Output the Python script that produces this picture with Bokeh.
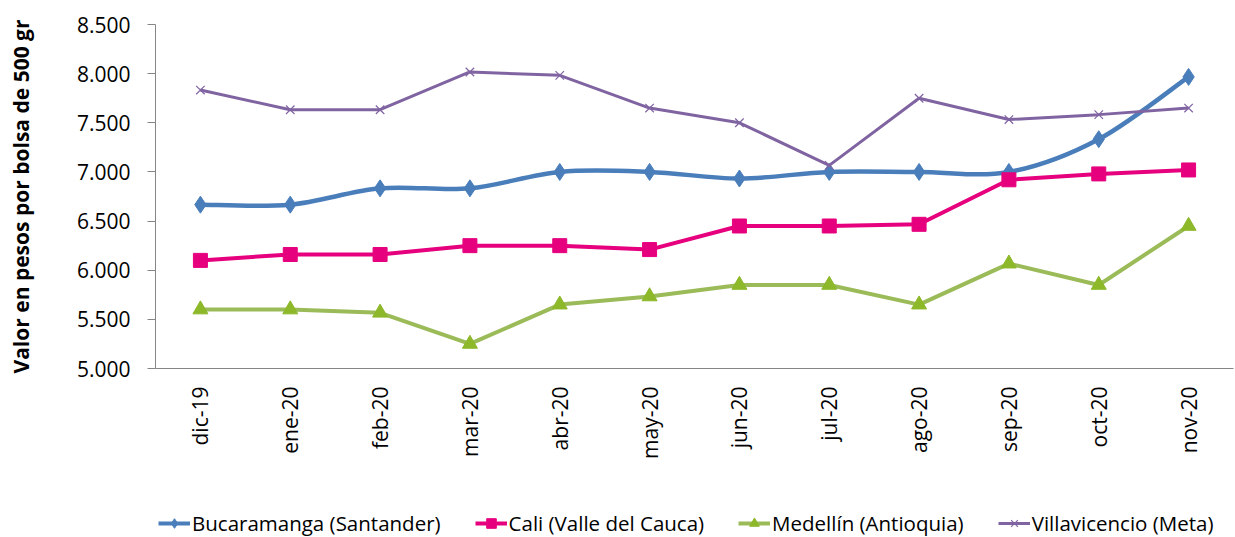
import math
from bokeh.plotting import figure
from bokeh.layouts import column
from bokeh.models import (Range1d, FixedTicker, Legend, LegendItem, ColumnDataSource)
from bokeh.embed import file_html
from bokeh.resources import INLINE

months = ["dic-19", "ene-20", "feb-20", "mar-20", "abr-20", "may-20",
          "jun-20", "jul-20", "ago-20", "sep-20", "oct-20", "nov-20"]
bucaramanga = [6667, 6667, 6833, 6833, 7000, 7000, 6933, 7000, 7000, 7000, 7333, 7967]
cali = [6100, 6160, 6160, 6250, 6250, 6210, 6450, 6450, 6467, 6920, 6980, 7020]
medellin = [5600, 5600, 5567, 5250, 5650, 5733, 5850, 5850, 5650, 6067, 5850, 6450]
villavicencio = [7833, 7633, 7633, 8017, 7983, 7650, 7500, 7067, 7750, 7533, 7583, 7650]
y_ticks = [5000, 5500, 6000, 6500, 7000, 7500, 8000, 8500]
y_tick_labels = ["5.000", "5.500", "6.000", "6.500", "7.000", "7.500", "8.000", "8.500"]
series_names = ["Bucaramanga (Santander)", "Cali (Valle del Cauca)",
                "Medellín (Antioquia)", "Villavicencio (Meta)"]
y_title = "Valor en pesos por bolsa de 500 gr"

FONT = "Open Sans"
xs = list(range(len(months)))

blue, pink, green, green_mk, purple = "#4A7EBB", "#E6007E", "#9BBB59", "#8DB82A", "#8064A2"

p = figure(frame_width=1078, frame_height=344, output_backend="svg", toolbar_location=None,
           x_range=Range1d(-0.5, len(months) - 0.5), y_range=Range1d(5000, 8500),
           min_border_left=155, min_border_right=2, min_border_top=24, min_border_bottom=137)
p.outline_line_color = None
p.xgrid.visible = False
p.ygrid.visible = False

# axes
p.xaxis.ticker = FixedTicker(ticks=xs)
p.xaxis.major_label_overrides = {i: m for i, m in enumerate(months)}
p.xaxis.major_label_orientation = math.pi / 2
p.xaxis.major_tick_out = 0
p.xaxis.major_tick_in = 0
p.xaxis.minor_tick_line_color = None
p.xaxis.axis_line_color = "#868686"
p.xaxis.major_label_standoff = 18
p.xaxis.major_label_text_font = FONT
p.xaxis.major_label_text_font_size = "21px"
p.xaxis.major_label_text_color = "#000000"

p.yaxis.ticker = FixedTicker(ticks=y_ticks)
p.yaxis.major_label_overrides = {t: l for t, l in zip(y_ticks, y_tick_labels)}
p.yaxis.major_tick_out = 8
p.yaxis.major_tick_in = 0
p.yaxis.minor_tick_line_color = None
p.yaxis.axis_line_color = "#868686"
p.yaxis.major_tick_line_color = "#868686"
p.yaxis.major_label_standoff = 17
p.yaxis.major_label_text_font = FONT
p.yaxis.major_label_text_font_size = "21px"
p.yaxis.major_label_text_color = "#000000"
p.yaxis.axis_label = y_title
p.yaxis.axis_label_text_font = FONT
p.yaxis.axis_label_text_font_size = "21px"
p.yaxis.axis_label_text_font_style = "bold"
p.yaxis.axis_label_text_color = "#000000"
p.yaxis.axis_label_standoff = 39

# smoothed Bucaramanga line (Catmull-Rom style bezier as in Excel)
n = len(bucaramanga)
def pt(i):
    i = max(0, min(n - 1, i))
    return xs[i], bucaramanga[i]
bz = dict(x0=[], y0=[], x1=[], y1=[], cx0=[], cy0=[], cx1=[], cy1=[])
for i in range(n - 1):
    xa, ya = pt(i - 1); xb, yb = pt(i); xc, yc = pt(i + 1); xd, yd = pt(i + 2)
    bz["x0"].append(xb); bz["y0"].append(yb)
    bz["x1"].append(xc); bz["y1"].append(yc)
    bz["cx0"].append(xb + (xc - xa) / 6); bz["cy0"].append(yb + (yc - ya) / 6)
    bz["cx1"].append(xc - (xd - xb) / 6); bz["cy1"].append(yc - (yd - yb) / 6)

p.bezier(source=ColumnDataSource(bz), x0="x0", y0="y0", x1="x1", y1="y1",
         cx0="cx0", cy0="cy0", cx1="cx1", cy1="cy1", line_color=blue, line_width=4.5)
p.scatter(xs, bucaramanga, marker="diamond", size=17, fill_color=blue, line_color=blue)

p.line(xs, cali, line_color=pink, line_width=4)
p.scatter(xs, cali, marker="square", size=14, fill_color=pink, line_color=pink)

p.line(xs, medellin, line_color=green, line_width=4)
p.scatter(xs, medellin, marker="triangle", size=15, fill_color=green_mk, line_color=green_mk)

p.line(xs, villavicencio, line_color=purple, line_width=3)
p.scatter(xs, villavicencio, marker="x", size=12, line_color=purple, line_width=1.2)

# legend strip (separate figure below the chart, frame aligned with the chart)
lg = figure(width=1235, height=32, output_backend="svg", toolbar_location=None,
            x_range=Range1d(0, 1), y_range=Range1d(0, 1),
            min_border_left=0, min_border_right=0, min_border_top=0, min_border_bottom=0)
lg.axis.visible = False
lg.xgrid.visible = False
lg.ygrid.visible = False
lg.outline_line_color = None

styles = [
    (blue, "diamond", 13, 4, blue),
    (pink, "square", 12, 4, pink),
    (green, "triangle", 12, 4, green_mk),
    (purple, "x", 10, 3, purple),
]
items = []
for name, (lc, mk, ms, lw, mc) in zip(series_names, styles):
    rl = lg.line([-10, -9], [-10, -10], line_color=lc, line_width=lw)
    if mk == "x":
        rm = lg.scatter([-10], [-10], marker=mk, size=ms, line_color=mc, line_width=1.2)
    else:
        rm = lg.scatter([-10], [-10], marker=mk, size=ms, fill_color=mc, line_color=mc)
    items.append(LegendItem(label=name, renderers=[rl, rm]))

legend = Legend(items=items, orientation="horizontal", location=(3, 0))
legend.label_text_font = FONT
legend.label_text_font_size = "20.5px"
legend.label_text_color = "#000000"
legend.glyph_width = 32
legend.label_standoff = 2
legend.spacing = 34
legend.border_line_color = None
legend.background_fill_alpha = 0
legend.padding = 0
legend.margin = 0
legend.label_height = 24
legend.glyph_height = 24
lg.add_layout(legend, "center")

layout = column(p, lg, spacing=0)
open("out.html", "w").write(file_html(layout, INLINE))
